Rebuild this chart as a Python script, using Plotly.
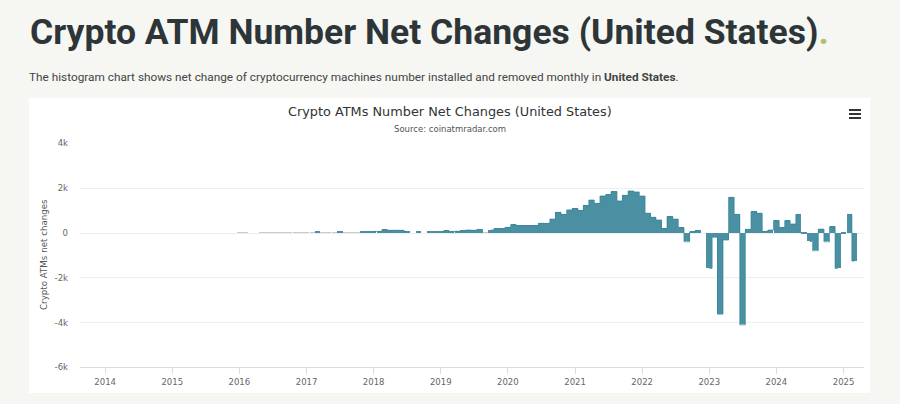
import plotly.graph_objects as go

# monthly net change
months = [f'{y}-{m:02d}-01' for y in range(2016, 2025) for m in range(1, 13)] + ['2025-01-01', '2025-02-01', '2025-03-01']

v2016 = [15, 15, 0, 0, 12, 3, 15, 3, 15, 20, 20, 20]
v2017 = [20, 15, 40, 15, 15, 15, 40, 15, 15, 15, 50, 40]
v2018 = [70, 70, 150, 120, 120, 120, 70, 0, 30, 0, 30, 30]
v2019 = [60, 100, 45, 75, 100, 130, 120, 160, 15, 130, 190, 190]
v2020 = [250, 370, 320, 320, 320, 320, 430, 430, 620, 920, 830, 1030]
v2021 = [1090, 1000, 1220, 1470, 1320, 1650, 1710, 1840, 1430, 1680, 1875, 1830]
v2022 = [1650, 880, 700, 580, 190, 730, 620, 240, -390, 50, 100, 0]
v2023 = [-1580, -190, -3620, -310, 1590, 830, -4100, 160, 950, 880, 70, 130]
v2024 = [550, 240, 550, 400, 830, -30, -380, -790, 170, -390, 280, -1580]
v2025 = [-30, 830, -1250]
values = v2016 + v2017 + v2018 + v2019 + v2020 + v2021 + v2022 + v2023 + v2024 + v2025

year_ticks = [f'{y}-01-01' for y in range(2014, 2026)]
year_labels = [str(y) for y in range(2014, 2026)]
y_ticks = [-6000, -4000, -2000, 0, 2000, 4000]
y_labels = ['-6k', '-4k', '-2k', '0', '2k', '4k']

W = 900
H = 404
chart_font = 'DejaVu Sans'

# bars under a pixel tall come out washed out in the reference
bar_colors = ['#c4cccc' if abs(v) <= 20 else '#4b8fa3' for v in values]
edge_values = [v if abs(v) > 40 else None for v in values]

fig = go.Figure(go.Bar(
    x=months, y=values, width=30.4 * 86400000,
    marker=dict(color=bar_colors, line=dict(width=0)),
))
# darker outline along the top of the bars
fig.add_trace(go.Scatter(
    x=months, y=edge_values, mode='lines', connectgaps=False,
    line=dict(shape='hvh', color='#35889c', width=0.8),
))

fig.update_layout(
    width=W, height=H, margin=dict(l=0, r=0, t=0, b=0, autoexpand=False),
    paper_bgcolor='#f6f7f3', plot_bgcolor='rgba(0,0,0,0)',
    showlegend=False, bargap=0,
    font=dict(family=chart_font, color='#555555', size=9),
    xaxis=dict(
        domain=[80 / W, 864 / W], type='date', range=['2013-08-17', '2025-04-22'],
        tickmode='array', tickvals=year_ticks, ticktext=year_labels,
        ticks='outside', ticklen=6, tickcolor='#dddddd', tickwidth=1,
        showline=True, linecolor='#dddddd', linewidth=1, showgrid=False, zeroline=False,
        tickfont=dict(size=8.5, color='#666666'),
    ),
    yaxis=dict(
        domain=[(H - 367.4) / H, (H - 143.4) / H], range=[-6000, 4000],
        tickmode='array', tickvals=y_ticks, ticktext=y_labels, ticks='', ticklabelstandoff=11,
        gridcolor='#eeeeee', gridwidth=1, zeroline=False, showline=False,
        tickfont=dict(size=8.5, color='#666666'),
    ),
)

# white card behind the chart, menu icon
fig.add_shape(type='rect', xref='paper', yref='paper', layer='below',
              x0=29 / W, x1=870 / W, y0=(H - 393) / H, y1=(H - 98) / H,
              fillcolor='white', line=dict(width=0))
for ypos in [110, 114, 118]:
    fig.add_shape(type='line', xref='paper', yref='paper',
                  x0=849 / W, x1=861 / W, y0=(H - ypos) / H, y1=(H - ypos) / H,
                  line=dict(color='#333333', width=2))


def label(text, x, y, size, color, family, xanchor='left', textangle=0):
    fig.add_annotation(text=text, x=x / W, y=(H - y) / H, xref='paper', yref='paper',
                       showarrow=False, xanchor=xanchor, yanchor='middle', textangle=textangle,
                       font=dict(size=size, color=color, family=family))


label('<b>Crypto ATM Number Net Changes (United States)</b><b style="color:#b5bd7a">.</b>',
      28, 32, 35.5, '#2d3538', 'Roboto')
label('The histogram chart shows net change of cryptocurrency machines number installed and removed monthly in '
      '<b>United States</b>.', 27, 77, 11.8, '#444444', 'Roboto')
label('Crypto ATMs Number Net Changes (United States)', 449.5, 111, 12.85, '#333333', chart_font, 'center')
label('Source: coinatmradar.com', 449.5, 129, 8.5, '#555555', chart_font, 'center')
label('Crypto ATMs net changes', 44, 255, 8.7, '#555555', chart_font, 'center', -90)

fig.write_html('out.html', config={'displayModeBar': False},
               post_script="document.body.style.margin='0';document.body.style.overflow='hidden';")
